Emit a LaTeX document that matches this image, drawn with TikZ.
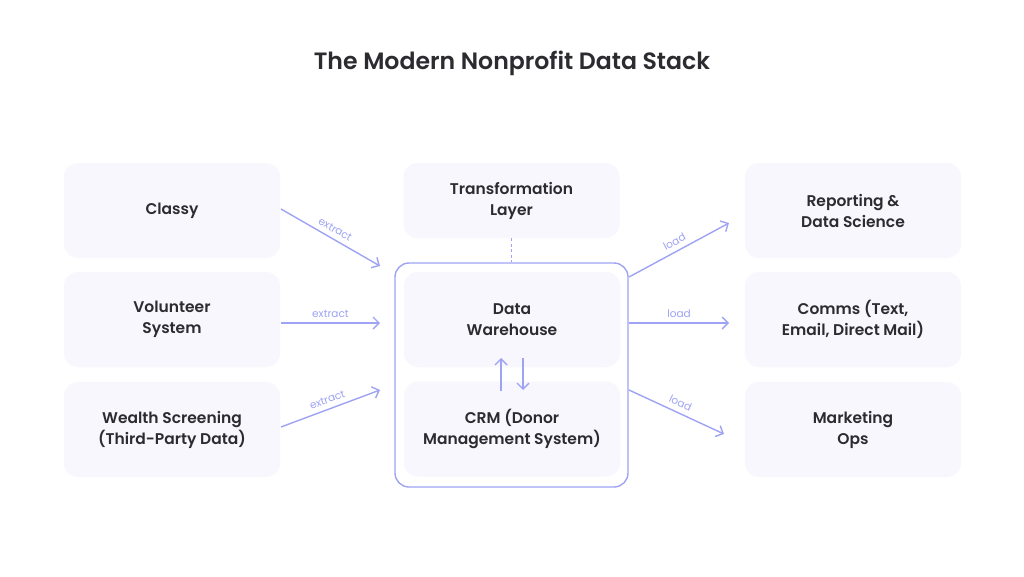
\documentclass[tikz,border=0pt]{standalone}
\usepackage{fontspec}
\setmainfont{Poppins}[BoldFont={Poppins SemiBold}]
\usetikzlibrary{arrows.meta}
\definecolor{arr}{HTML}{9EA3F4}
\definecolor{boxfill}{HTML}{F7F7FD}
\definecolor{txt}{HTML}{2B2B30}
\tikzset{
  cbox/.style={fill=boxfill, rounded corners=14pt, minimum width=216pt, minimum height=95pt, inner sep=0pt, align=center, text=txt, font=\fontsize{15.5}{21}\selectfont\bfseries},
  conn/.style={draw=arr, line width=1.4pt, -{Straight Barb[length=6pt,width=12pt,line width=1.4pt]}},
  lbl/.style={text=arr, font=\fontsize{10.5}{12}\selectfont, inner sep=0pt, above=5pt}
}
\begin{document}
\begin{tikzpicture}[x=1pt,y=-1pt]
\useasboundingbox (0,0) rectangle (1024,576);
\fill[white] (0,0) rectangle (1024,576);
\node[text=txt, font=\fontsize{23.6}{28}\selectfont\bfseries] (title) at (512,63) {The Modern Nonprofit Data Stack};
% left
\node[cbox] (classy) at (172,210.5) {Classy};
\node[cbox] (vol) at (172,319.5) {Volunteer\\System};
\node[cbox] (wealth) at (172,429.5) {Wealth Screening\\(Third-Party Data)};
% center
\node[draw=arr, line width=1.4pt, rounded corners=14pt, minimum width=233pt, minimum height=224pt, inner sep=0pt] (core) at (511.5,375) {};
\node[cbox, minimum height=75pt] (trans) at (511.5,200.5) {Transformation\\Layer};
\node[cbox] (dw) at (512,319.5) {Data\\Warehouse};
\node[cbox] (crm) at (512,429) {CRM (Donor\\Management System)};
% right
\node[cbox] (rep) at (853,210.5) {Reporting \&\\Data Science};
\node[cbox] (comms) at (853,319.5) {Comms (Text,\\Email, Direct Mail)};
\node[cbox] (mkt) at (853,429.5) {Marketing\\Ops};
% coordinates
\coordinate (c1s) at (281,209); \coordinate (c1e) at (380,266);
\coordinate (c2s) at (281,323); \coordinate (c2e) at (380,323);
\coordinate (c3s) at (281,427); \coordinate (c3e) at (380,390);
\coordinate (r1s) at (629,277); \coordinate (r1e) at (729,223);
\coordinate (r2s) at (629,323); \coordinate (r2e) at (729,323);
\coordinate (r3s) at (629,390); \coordinate (r3e) at (724,434);
\draw[conn] (c1s) -- node[lbl, sloped] {extract} (c1e);
\draw[conn] (c2s) -- node[lbl] {extract} (c2e);
\draw[conn] (c3s) -- node[lbl, sloped] {extract} (c3e);
\draw[conn] (r1s) -- node[lbl, sloped] {load} (r1e);
\draw[conn] (r2s) -- node[lbl] {load} (r2e);
\draw[conn] (r3s) -- node[lbl, sloped] {load} (r3e);
% dashed
\draw[arr, line width=1.4pt, dash pattern=on 3pt off 2.5pt] (trans.south) -- (core.north);
% up/down
\coordinate (u1) at (501,391); \coordinate (u2) at (501,358);
\coordinate (d1) at (523,358); \coordinate (d2) at (523,390);
\draw[conn] (u1) -- (u2);
\draw[conn] (d1) -- (d2);
\end{tikzpicture}
\end{document}
